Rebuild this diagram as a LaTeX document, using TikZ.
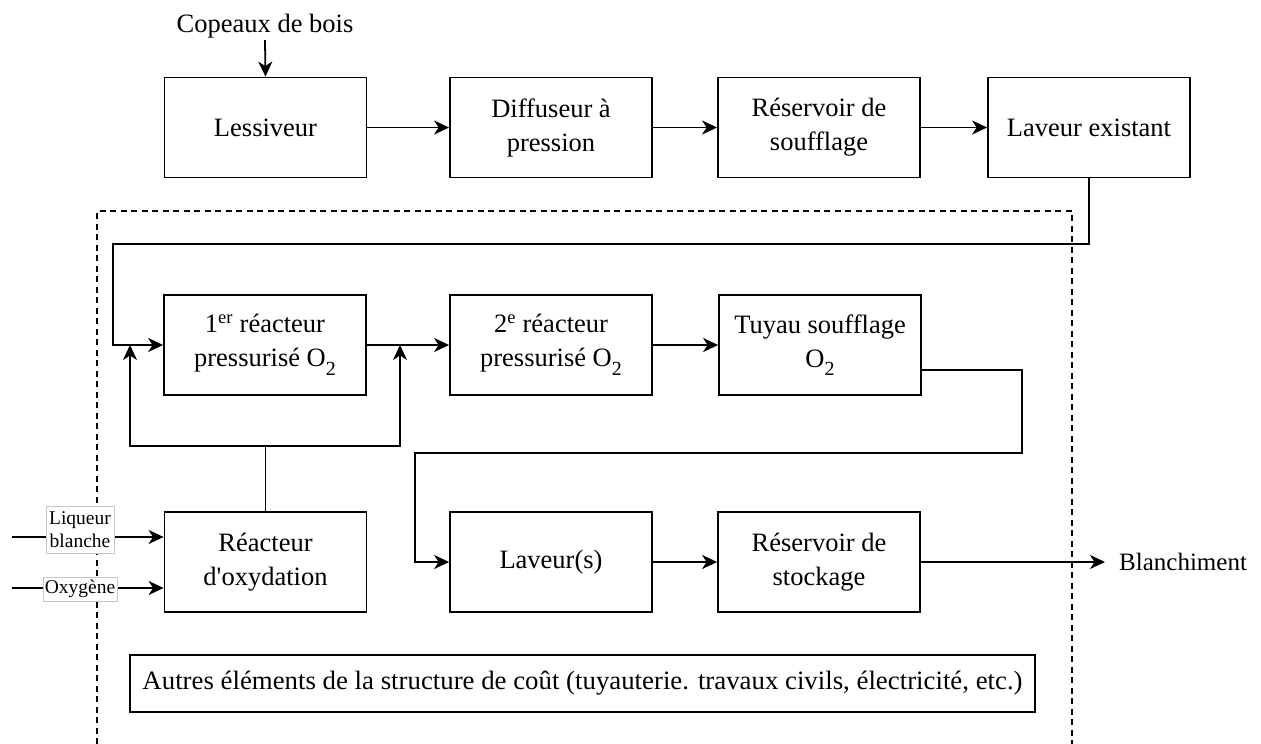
\documentclass[tikz,border=0pt]{standalone}
\usepackage{fontspec}
\usepackage{graphicx}
\setmainfont{Liberation Serif}
\usetikzlibrary{arrows.meta}
% subscript two, set large and low as in the process labels
\newcommand\subtwo{\raisebox{-0.32em}{\fontsize{20}{20}\selectfont 2}}
\begin{document}
\begin{tikzpicture}[x=1pt,y=-1pt,
  box/.style={draw, line width=1.8pt, minimum width=202pt, minimum height=100pt,
    align=center, inner sep=0pt, font=\fontsize{26.5}{34}\selectfont},
  plain/.style={align=center, inner sep=2pt, font=\fontsize{26.5}{34}\selectfont},
  flow/.style={line width=1.8pt, -{Stealth[length=15pt,width=14pt,inset=4.5pt]}},
  link/.style={line width=1.8pt},
  frame/.style={line width=1.5pt, dash pattern=on 6pt off 4.5pt},
  tag/.style={draw=gray!45, fill=white, line width=0.8pt, align=center,
    inner sep=1pt, font=\fontsize{19.5}{23.5}\selectfont}
]
\useasboundingbox (0,0) rectangle (1261,744);

% dashed boundary of the new installation (open at the bottom)
\draw[frame] (97,744) -- (97,211) -- (1072,211) -- (1072,744);

% top row: existing line
\node[plain] (copeaux) at (265,26) {Copeaux de bois};
\node[box] (lessiveur) at (265.5,127.5) {Lessiveur};
\node[box] (diffuseur) at (551,127.5) {Diffuseur à\\pression};
\node[box] (souffl) at (819,127.5) {Réservoir de\\soufflage};
\node[box] (laveurex) at (1089,127.5) {Laveur existant};

% second row: oxygen delignification
\node[box] (r1) at (265,345) {1\textsuperscript{er} réacteur\\pressurisé O\subtwo};
\node[box] (r2) at (551,345) {2\textsuperscript{e} réacteur\\pressurisé O\subtwo};
\node[box] (tuyau) at (820,345) {Tuyau soufflage\\O\subtwo};

% third row
\node[box] (oxy) at (265.5,562) {Réacteur\\d\textquotesingle oxydation};
\node[box] (laveurs) at (551,562) {Laveur(s)};
\node[box] (stock) at (819,562) {Réservoir de\\stockage};
\node[plain, anchor=west, inner sep=0pt, font=\fontsize{25}{30}\selectfont] (blanch) at (1119,562) {Blanchiment};

% other cost items
\node[draw, line width=1.8pt, minimum width=905pt, minimum height=57pt, inner sep=0pt,
  font=\fontsize{26.5}{34}\selectfont] (autres) at (582.5,683.5)
  {\resizebox{880pt}{\height}{Autres éléments de la structure de coût (tuyauterie. travaux civils, électricité, etc.)}};

% junction points
\coordinate (ret) at (113,244);
\coordinate (split) at (265.5,446);
\coordinate (jl) at (130,345);
\coordinate (jr) at (400,345);
\coordinate (t1) at (1022,453);
\coordinate (t2) at (415,453);
\coordinate (in1) at (12,537);
\coordinate (in2) at (12,588);

% top row flow
\draw[flow] (copeaux.south) -- (lessiveur.north);
\draw[flow] (lessiveur.east) -- (diffuseur.west);
\draw[flow] (diffuseur.east) -- (souffl.west);
\draw[flow] (souffl.east) -- (laveurex.west);

% return into the oxygen stage
\draw[flow] (laveurex.south) |- (ret) |- (r1.west);
\draw[flow] (r1.east) -- (r2.west);
\draw[flow] (r2.east) -- (tuyau.west);

% oxidized white liquor feeds
\draw[link] (oxy.north) -- (split);
\draw[flow] (split) -| (jl);
\draw[flow] (split) -| (jr);

% to washers and storage
\draw[flow] ([yshift=-25pt]tuyau.east) -| (t1) -- (t2) |- (laveurs.west);
\draw[flow] (laveurs.east) -- (stock.west);
\draw[flow] (stock.east) -- ([xshift=-14pt]blanch.west);

% inputs to the oxidation reactor
\draw[flow] (in1) -- (in1 -| oxy.west);
\draw[flow] (in2) -- (in2 -| oxy.west);
\node[tag, minimum width=68pt, minimum height=47pt] (liqueur) at (80,529.5) {Liqueur\\blanche};
\node[tag, minimum width=74pt, minimum height=24pt] (oxygene) at (80,589) {Oxygène};
\end{tikzpicture}
\end{document}
